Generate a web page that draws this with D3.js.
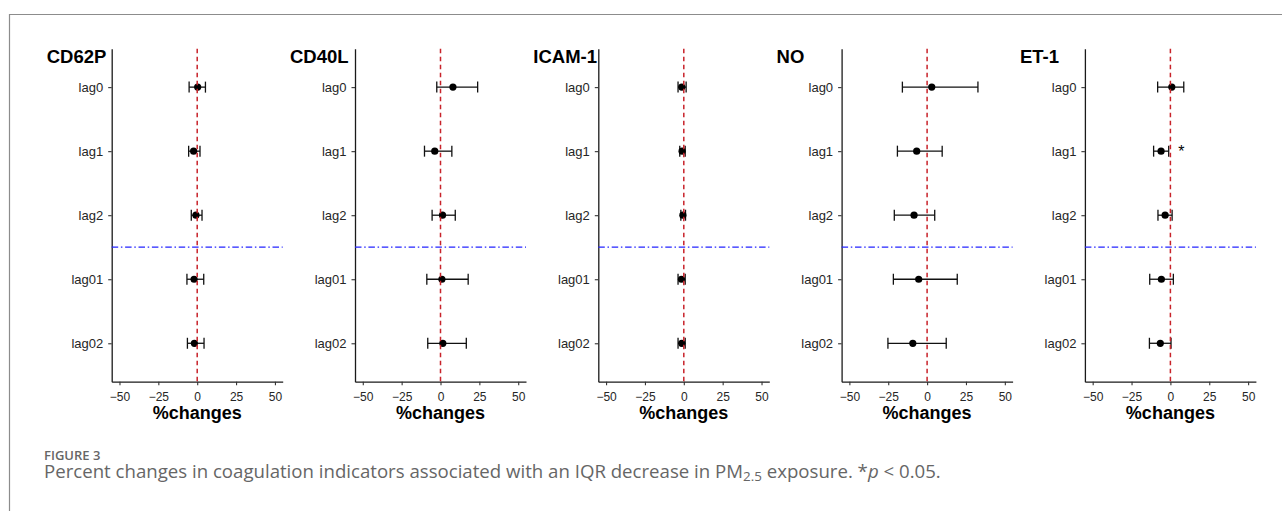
<!DOCTYPE html>
<html>
<head>
<meta charset="utf-8">
<script src="https://cdn.jsdelivr.net/npm/d3@7"></script>
<style>
  html, body { margin: 0; padding: 0; background: #fff; }
  svg { display: block; }
</style>
</head>
<body>
<svg id="chart" width="1282" height="511"></svg>
<script>
const indicators = ["CD62P", "CD40L", "ICAM-1", "NO", "ET-1"];
const lags = ["lag0", "lag1", "lag2", "lag01", "lag02"];
const xTicks = [-50, -25, 0, 25, 50];

// % change per indicator (rows) and lag (columns)
const estimates = [
  [0.3, -2.3, -0.8, -2.0, -1.8],
  [8.0, -3.7, 1.3, 0.9, 1.5],
  [-1.3, -1.1, -0.6, -1.5, -1.3],
  [3.0, -6.7, -8.4, -5.4, -9.2],
  [0.9, -6.0, -3.4, -5.8, -6.5]
];
const lowerCI = [
  [-5.2, -5.5, -3.8, -6.6, -6.3],
  [-2.4, -10.3, -5.4, -8.8, -8.2],
  [-3.7, -2.6, -1.9, -3.7, -3.7],
  [-15.9, -19.1, -21.1, -21.7, -25.2],
  [-8.2, -10.8, -8.0, -13.3, -13.5]
];
const upperCI = [
  [5.3, 1.8, 3.1, 4.2, 4.4],
  [23.9, 7.3, 9.5, 17.8, 16.6],
  [1.5, 0.9, 1.1, 0.9, 0.9],
  [32.7, 9.7, 4.9, 19.4, 12.3],
  [8.6, -1.1, 1.1, 1.9, 0.4]
];
// p < 0.05 marks
const sigIndicator = ["ET-1"];
const sigLag = ["lag1"];
const sigX = [7];

const svg = d3.select("#chart");
const font = "'Liberation Sans', Arial, sans-serif";

const firstAxisX = 111.7, panelStep = 243.3, plotW = 171;
const plotTop = 48.7, plotBottom = 381.7;

const x = d3.scaleLinear().domain([-55, 55]).range([0, plotW]);
const y = d3.scalePoint().domain(lags).range([plotTop, plotBottom]).padding(0.6);

// figure frame
svg.append("path")
  .attr("d", "M9.5,520 V14.5 H1300")
  .attr("fill", "none")
  .attr("stroke", "#8c8c8c")
  .attr("stroke-width", 1.2);

indicators.forEach((name, i) => {
  const g = svg.append("g").attr("transform", `translate(${firstAxisX + i * panelStep},0)`);

  // title
  g.append("text")
    .attr("x", -65).attr("y", 63.3)
    .style("font-family", font).style("font-weight", "bold").style("font-size", "18.5px")
    .attr("fill", "#000")
    .text(name);

  // X axis
  const xAxis = g.append("g")
    .attr("transform", `translate(0,${plotBottom})`)
    .call(d3.axisBottom(x).tickValues(xTicks).tickSize(3.5).tickPadding(7).tickSizeOuter(0));
  xAxis.selectAll("text").style("font-family", font).style("font-size", "12px").attr("fill", "#262626");

  // Y axis
  const yAxis = g.append("g")
    .call(d3.axisLeft(y).tickSize(3.5).tickPadding(5).tickSizeOuter(0));
  yAxis.selectAll("text").style("font-family", font).style("font-size", "13px").attr("fill", "#262626");

  [xAxis, yAxis].forEach(a => {
    a.select(".domain").attr("stroke", "#1a1a1a").attr("stroke-width", 1.3);
    a.selectAll(".tick line").attr("stroke", "#333").attr("stroke-width", 1.1);
  });

  // x label
  g.append("text")
    .attr("x", plotW / 2).attr("y", 419)
    .attr("text-anchor", "middle")
    .style("font-family", font).style("font-weight", "bold").style("font-size", "18px")
    .text("%changes");

  const rows = lags.map((lag, j) => ({ lag, est: estimates[i][j], lo: lowerCI[i][j], hi: upperCI[i][j] }));

  // error bars
  const bars = g.append("g").attr("stroke", "#111").attr("stroke-width", 1.3);
  rows.forEach(d => {
    const cy = y(d.lag);
    bars.append("line").attr("x1", x(d.lo)).attr("x2", x(d.hi)).attr("y1", cy).attr("y2", cy);
    bars.append("line").attr("x1", x(d.lo)).attr("x2", x(d.lo)).attr("y1", cy - 5.5).attr("y2", cy + 5.5);
    bars.append("line").attr("x1", x(d.hi)).attr("x2", x(d.hi)).attr("y1", cy - 5.5).attr("y2", cy + 5.5);
  });

  // points
  g.selectAll("circle.pt")
    .data(rows)
    .join("circle")
    .attr("class", "pt")
    .attr("cx", d => x(d.est))
    .attr("cy", d => y(d.lag))
    .attr("r", 3.6)
    .attr("fill", "#000");

  // reference lines
  g.append("line")
    .attr("x1", x(0)).attr("x2", x(0))
    .attr("y1", plotTop).attr("y2", plotBottom)
    .attr("stroke", "#c8232a").attr("stroke-width", 1.5)
    .attr("stroke-dasharray", "4.5,3.5");

  const yBreak = (y("lag2") + y("lag01")) / 2;
  g.append("line")
    .attr("x1", 0).attr("x2", plotW)
    .attr("y1", yBreak).attr("y2", yBreak)
    .attr("stroke", "#2424ff").attr("stroke-width", 1.3)
    .attr("stroke-dasharray", "6.5,2.7,1.5,2.7");

  // significance marks
  sigIndicator.forEach((s, k) => {
    if (s !== name) return;
    g.append("text")
      .attr("x", x(sigX[k])).attr("y", y(sigLag[k]) + 5.6)
      .attr("text-anchor", "middle")
      .style("font-family", font).style("font-size", "16px")
      .text("*");
  });
});

// caption
const capFont = "'Open Sans', 'Noto Sans', sans-serif";
svg.append("text")
  .attr("x", 44).attr("y", 459.5)
  .style("font-family", capFont).style("font-weight", 600).style("font-size", "13px")
  .attr("fill", "#666")
  .text("FIGURE 3");

const cap = svg.append("text")
  .attr("x", 44).attr("y", 477.5)
  .style("font-family", capFont).style("font-size", "15px")
  .attr("fill", "#666");
const capMain = cap.append("tspan").text("Percent changes in coagulation indicators associated with an IQR decrease in ");
const cw = capMain.node().getComputedTextLength();
cap.style("font-size", (15 * 667 / cw) + "px");
cap.append("tspan").text("PM");
cap.append("tspan").attr("dy", 3).style("font-size", "0.72em").text("2.5");
cap.append("tspan").attr("dy", -3).text(" exposure. *");
cap.append("tspan").style("font-style", "italic").text("p");
cap.append("tspan").text(" < 0.05.");
</script>
</body>
</html>
